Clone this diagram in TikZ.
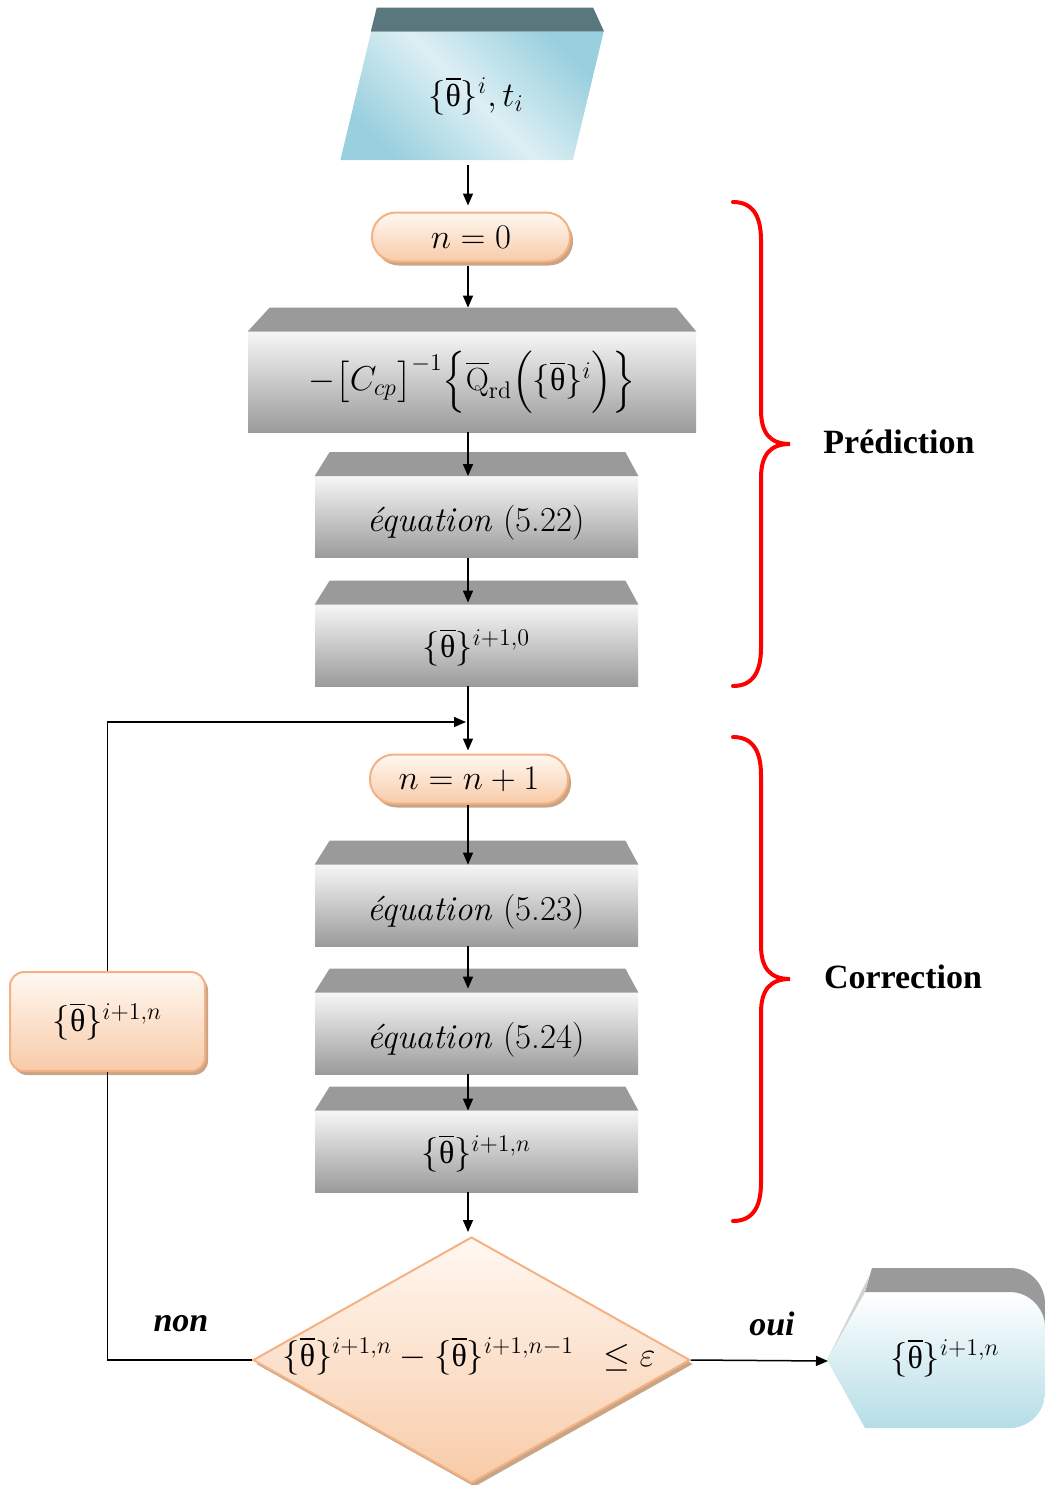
\documentclass[tikz,border=0pt]{standalone}
\usepackage{amsmath}
\usepackage{fontspec}
\newfontfamily\grk{Liberation Serif}
\newfontfamily\lblfont{Liberation Serif}
\usetikzlibrary{arrows.meta,calc,shapes.geometric,shadows}
\newcommand\thb{\overline{\text{\grk θ}}}
\DeclareMathSizes{16}{16}{12}{9}
\DeclareMathSizes{17}{17}{12.5}{9.5}

\definecolor{peachT}{HTML}{FFF8F2}
\definecolor{peachB}{HTML}{F8CBA8}
\definecolor{peachL}{HTML}{F4B183}
\definecolor{peachS}{HTML}{C9A586}
\definecolor{greyBand}{HTML}{9A9A9A}
\definecolor{greyT}{HTML}{F6F6F6}
\definecolor{greyB}{HTML}{9B9B9B}
\definecolor{blueL}{HTML}{DDEFF4}
\definecolor{blueD}{HTML}{99D0DE}
\definecolor{resB}{HTML}{B5DDE7}
\definecolor{slate}{HTML}{59787E}

\begin{document}
\begin{tikzpicture}[x=0.5pt,y=-0.5pt,
  every node/.style={font=\fontsize{16}{19}\selectfont},
  terminal/.style={rectangle, rounded corners=12pt, draw=peachL, line width=1pt,
    top color=peachT, bottom color=peachB, minimum width=99pt, minimum height=24.5pt,
    inner sep=0pt, font=\fontsize{17}{20}\selectfont,
    drop shadow={shadow xshift=1.5pt, shadow yshift=-2pt, fill=peachS, opacity=1}},
  greybody/.style={rectangle, inner sep=0pt, top color=greyT, bottom color=greyB,
    minimum width=161.5pt, minimum height=40.5pt},
  band/.style={fill=greyBand},
  eqtext/.style={font=\fontsize{17.5}{20}\selectfont},
  flow/.style={-{Triangle[length=6pt,width=5pt]}, line width=0.75pt},
  link/.style={line width=0.75pt},
  brace/.style={draw=red, line width=2pt, line cap=round},
  tag/.style={font=\lblfont\bfseries\fontsize{17}{20}\selectfont},
  flag/.style={font=\lblfont\bfseries\itshape\fontsize{17}{20}\selectfont}]

\useasboundingbox (0,0) rectangle (1045,1485);
\coordinate (spine) at (468,0);

% input parallelogram with its top band
\node[trapezium, trapezium left angle=67.5, trapezium right angle=112.5,
  trapezium stretches=true, minimum width=132pt, minimum height=64pt, inner sep=0pt,
  top color=blueD, bottom color=blueD, middle color=blueL, shading angle=-45]
  (inp) at (472,96) {\hspace{4pt}$\{\thb\}^{i}, t_i$};
\fill[slate] ($(inp.top left corner)+(6,-24)$) -- ($(inp.top right corner)+(-11,-24)$)
  -- (inp.top right corner) -- (inp.top left corner) -- cycle;

% prediction
\node[terminal] (n0) at (471,237) {$n = 0$};

\node[greybody, minimum width=224pt, minimum height=50pt] (ccp) at (472,382) {};
\node (ccpt) at (472,382)
  {$-\big[C_{cp}\big]^{-1}\Big\{\overline{\mathrm{Q}}_{\mathrm{rd}}\Big(\{\thb\}^{i}\Big)\Big\}$};
\fill[band] ($(ccp.north west)+(22,-24)$) -- ($(ccp.north east)+(-20,-24)$)
  -- (ccp.north east) -- (ccp.north west) -- cycle;
\coordinate (ccpTop) at ($(ccp.north)+(0,-24)$);

\node[greybody] (e1) at (476.5,517) {};
\node[greybody] (t0) at (476.5,645.5) {};

% correction
\node[terminal] (n1) at (469,779) {$n = n + 1$};
\node[greybody] (e2) at (476.5,905.5) {};
\node[greybody] (e3) at (476.5,1033.5) {};
\node[greybody] (t1) at (476.5,1151.5) {};

\foreach \b in {e1,t0,e2,e3,t1}
  \fill[band] ($(\b.north west)+(15,-24)$) -- ($(\b.north east)+(-13,-24)$)
    -- (\b.north east) -- (\b.north west) -- cycle;

\node[eqtext] (e1t) at ($(e1)+(0,6)$) {\textit{équation} (5.22)};
\node (t0t) at ($(t0)+(0,2)$) {$\{\thb\}^{i+1,0}$};
\node[eqtext] (e2t) at ($(e2)+(0,6)$) {\textit{équation} (5.23)};
\node[eqtext] (e3t) at ($(e3)+(0,6)$) {\textit{équation} (5.24)};
\node (t1t) at ($(t1)+(0,2)$) {$\{\thb\}^{i+1,n}$};

% convergence test
\node[diamond, minimum width=218.5pt, minimum height=123pt, inner sep=0pt,
  draw=peachL, line width=1pt, top color=peachT, bottom color=peachB,
  drop shadow={shadow xshift=1.5pt, shadow yshift=-2pt, fill=peachS, opacity=1}]
  (dia) at (471.5,1360) {};
\node (cond) at (469,1356)
  {$\{\thb\}^{i+1,n} - \{\thb\}^{i+1,n-1}\ \ \le \varepsilon$};

% feedback box
\node[rectangle, rounded corners=7pt, draw=peachL, line width=1pt,
  top color=peachT, bottom color=peachB, minimum width=97.5pt, minimum height=49.5pt,
  drop shadow={shadow xshift=1.5pt, shadow yshift=-2pt, fill=peachS, opacity=1}]
  (back) at (107.5,1021.5) {$\{\thb\}^{i+1,n}$};

% result shape
\path[top color=white, bottom color=resB]
  (827,1360) -- (865,1292) -- (1010,1292)
  .. controls (1029,1292) and (1045,1308) .. (1045,1327) -- (1045,1393)
  .. controls (1045,1412) and (1029,1428) .. (1010,1428) -- (865,1428) -- cycle;
\fill[greyBand] (872,1268) -- (1010,1268)
  .. controls (1030,1268) and (1045,1284) .. (1045,1304) -- (1045,1327)
  .. controls (1045,1308) and (1029,1292) .. (1010,1292) -- (865,1292) -- cycle;
\fill[gray!35] (827,1360) -- (869,1276) -- (865,1292) -- cycle;
\node (res) at (945,1358) {$\{\thb\}^{i+1,n}$};
\coordinate (resIn) at (828,1361);

% braces and phase labels
\draw[brace] (733,202) .. controls (752,202) and (761,215) .. (761,240) -- (761,410)
  .. controls (761,433) and (770,444) .. (790,444)
  .. controls (770,444) and (761,455) .. (761,478) -- (761,648)
  .. controls (761,673) and (752,686) .. (733,686);
\draw[brace] (733,737) .. controls (752,737) and (761,750) .. (761,775) -- (761,945)
  .. controls (761,968) and (770,979) .. (790,979)
  .. controls (770,979) and (761,990) .. (761,1013) -- (761,1183)
  .. controls (761,1208) and (752,1221) .. (733,1221);
\node[tag] (pred) at (899,442) {Prédiction};
\node[tag] (corr) at (903,977) {Correction};
\node[flag] (non) at (181,1324) {non};
\node[flag] (oui) at (772,1324) {oui};

% connectors
\coordinate (join) at (468,722);
\draw[flow, shorten <=2.5pt, shorten >=3pt] (inp.south -| spine) -- (n0.north -| spine);
\draw[flow, shorten <=1.5pt] (n0.south -| spine) -- (ccpTop -| spine);
\draw[flow] (ccp.south -| spine) -- (e1.north -| spine);
\draw[flow, shorten >=1pt] (e1.south -| spine) -- (t0.north -| spine);
\draw[flow, shorten >=1.5pt] (t0.south -| spine) -- (n1.north -| spine);
\draw[flow, shorten >=1pt] (back.north) -- (back.north |- join) -- (join);
\draw[flow] (n1.south -| spine) -- (e2.north -| spine);
\draw[flow, shorten >=2pt] (e2.south -| spine) -- (e3.north -| spine);
\draw[flow] (e3.south -| spine) -- (t1.north -| spine);
\draw[flow, shorten >=2pt] (t1.south -| spine) -- (dia.north -| spine);
\draw[link] (dia.west) -- (back.south |- dia.west) -- (back.south);
\draw[flow] (dia.east) -- (resIn);

\end{tikzpicture}
\end{document}
